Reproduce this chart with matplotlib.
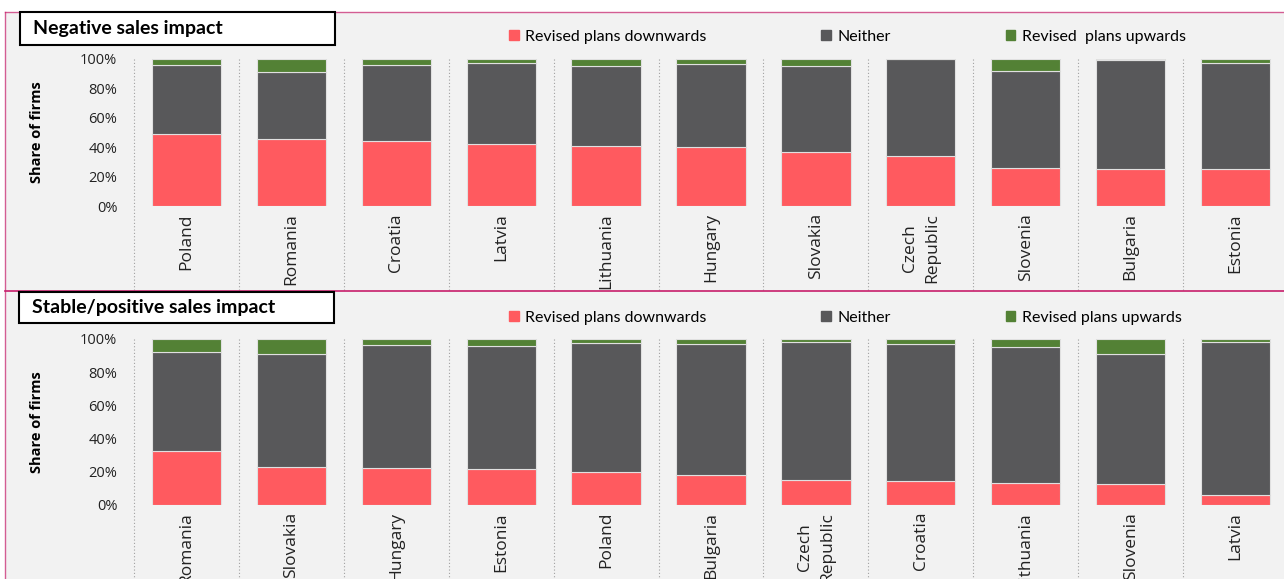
import matplotlib
matplotlib.use("Agg")
import matplotlib.pyplot as plt
from matplotlib.patches import Rectangle, Patch
import numpy as np

# ---- data (share of firms, %) ----
top_countries = ['Poland', 'Romania', 'Croatia', 'Latvia', 'Lithuania', 'Hungary',
                 'Slovakia', 'Czech\nRepublic', 'Slovenia', 'Bulgaria', 'Estonia']
top_down = [49, 45.5, 44, 42.5, 41, 40, 36.5, 34, 26, 25, 25]
top_neither = [47, 45.5, 52, 55, 54.5, 56.5, 59, 66, 66, 74.3, 72.3]
top_up = [4, 9, 4, 2.5, 4.5, 3.5, 4.5, 0, 8, 0.7, 2.7]

bot_countries = ['Romania', 'Slovakia', 'Hungary', 'Estonia', 'Poland', 'Bulgaria',
                 'Czech\nRepublic', 'Croatia', 'Lithuania', 'Slovenia', 'Latvia']
bot_down = [32.5, 22.7, 22.3, 21.5, 20, 18, 15.3, 14.3, 13.5, 12.7, 6]
bot_neither = [59.5, 68.3, 74.3, 74, 77.8, 79, 82.9, 82.5, 81.5, 78, 92]
bot_up = [8, 9, 3.4, 4.5, 2.2, 3, 1.8, 3.2, 5, 9.3, 2]

yticks = [0, 20, 40, 60, 80, 100]

RED = '#FF5A5F'
GREY = '#58585A'
GREEN = '#538135'
PINK = '#C71E6B'
BG = '#F2F2F2'
SANS = ['Open Sans', 'DejaVu Sans']

W, H = 1284, 579
fig = plt.figure(figsize=(W / 100, H / 100), dpi=100, facecolor='white')


def fx(px):
    return px / W


def fy(py):
    # pixel from top -> figure fraction from bottom
    return 1 - py / H


# grey background and pink frame
fig.patches.append(Rectangle((fx(5), 0), 1 - fx(5), fy(12), transform=fig.transFigure,
                             facecolor=BG, edgecolor='none', zorder=-10))
fig.add_artist(plt.Line2D([fx(5), 1], [fy(12), fy(12)], color=PINK, lw=1.0, alpha=0.7))
fig.add_artist(plt.Line2D([fx(5), fx(5)], [0, fy(12)], color=PINK, lw=1.0, alpha=0.7))
fig.add_artist(plt.Line2D([fx(5), 1], [fy(291), fy(291)], color=PINK, lw=1.2))


def draw_panel(top_px, bottom_px, countries, down, neither, up, title, box, leg_y, labels, sep_bottom):
    h_px = bottom_px - top_px
    ax = fig.add_axes([fx(134), fy(bottom_px), fx(1288 - 134), h_px / H])
    ax.set_facecolor('none')
    x = np.arange(len(countries))
    down = np.array(down)
    neither = np.array(neither)
    up = np.array(up)
    kw = dict(width=0.66, edgecolor='#E0E0E0', linewidth=0.8)
    ax.bar(x, down, color=RED, **kw)
    ax.bar(x, neither, bottom=down, color=GREY, **kw)
    ax.bar(x, up, bottom=down + neither, color=GREEN, **kw)
    ax.set_xlim(-0.5, len(countries) - 0.5)
    ax.set_ylim(0, 100)
    ax.set_yticks(yticks)
    ax.set_yticklabels([f'{t}%' for t in yticks], fontsize=10.5, family=SANS, color='#222222')
    ax.set_xticks([])
    # category labels as rotated text (so the two-line label gets wider spacing)
    for xi, name in zip(x, countries):
        ax.text(xi, -7 / h_px, name, transform=ax.get_xaxis_transform(), rotation=90,
                ha='center', va='top', fontsize=12.5, family=SANS, color='#222222',
                linespacing=1.5)
    ax.tick_params(axis='y', length=0, pad=12)
    for s in ax.spines.values():
        s.set_visible(False)
    # dotted category separators
    for k in range(len(countries) + 1):
        ax.plot([k - 0.5, k - 0.5], [1, sep_bottom], transform=ax.get_xaxis_transform(),
                color='#A0A0A0', lw=0.8, ls=(0, (1, 2)), clip_on=False, zorder=0)
    ax.set_ylabel('Share of firms', fontsize=10.5, fontweight='bold', family=SANS)
    ax.yaxis.set_label_coords((44 - 134) / (1288 - 134), 0.5)

    # title box
    bx0, by0, bx1, by1 = box
    fig.patches.append(Rectangle((fx(bx0), fy(by1)), fx(bx1 - bx0), (by1 - by0) / H,
                                 transform=fig.transFigure, facecolor='white',
                                 edgecolor='black', lw=1.5, zorder=5))
    fig.text(fx(bx0 + 13), fy((by0 + by1) / 2), title, fontsize=14, fontweight='bold',
             family='Lato', va='center', ha='left', zorder=6)

    handles = [Patch(color=RED), Patch(color=GREY), Patch(color=GREEN)]
    fig.legend(handles, labels, loc='center left', bbox_to_anchor=(fx(509), fy(leg_y)),
               ncol=3, frameon=False, prop={'family': 'Lato', 'size': 11.5},
               handlelength=0.6, handleheight=0.6, handletextpad=0.4,
               columnspacing=7.2, borderpad=0, borderaxespad=0)
    return ax


draw_panel(59, 206, top_countries, top_down, top_neither, top_up,
           'Negative sales impact', (20, 12, 335, 45), 37,
           ['Revised plans downwards', 'Neither', 'Revised  plans upwards'], -0.57)
draw_panel(339, 505, bot_countries, bot_down, bot_neither, bot_up,
           'Stable/positive sales impact', (19, 292, 334, 323), 318,
           ['Revised plans downwards', 'Neither', 'Revised plans upwards'], -0.5)

fig.savefig('out.png', dpi=100, facecolor=fig.get_facecolor())
